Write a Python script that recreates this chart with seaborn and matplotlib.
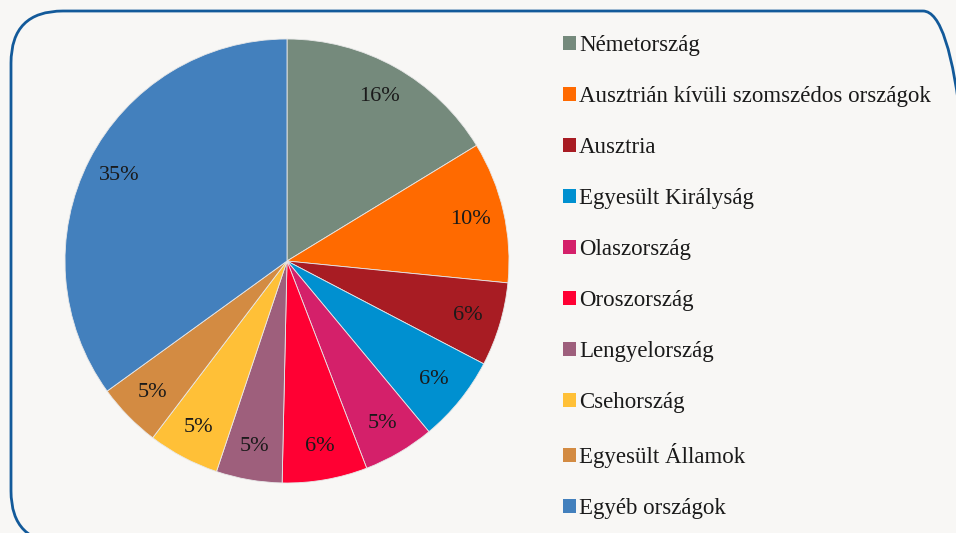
import matplotlib
matplotlib.use("Agg")
import matplotlib.pyplot as plt
import seaborn as sns
from matplotlib.patches import FancyBboxPatch
from matplotlib.transforms import IdentityTransform

categories = ["Németország", "Ausztrián kívüli szomszédos országok", "Ausztria",
              "Egyesült Királyság", "Olaszország", "Oroszország", "Lengyelország",
              "Csehország", "Egyesült Államok", "Egyéb országok"]
values = [16.3, 10.3, 6.1, 6.3, 5.2, 6.2, 4.8, 5.2, 4.7, 35.0]
pct_labels = ["16%", "10%", "6%", "6%", "5%", "6%", "5%", "5%", "5%", "35%"]
colors = ["#758A7C", "#FF6A00", "#A81C23", "#0090D0", "#D4206A",
          "#FF0033", "#9E5F7C", "#FFC037", "#D38B42", "#4380BD"]

sns.set_theme(style="white")
plt.rcParams['font.family'] = ['Liberation Serif', 'DejaVu Serif']

bg = "#F8F7F5"
W, H = 956, 533
fig = plt.figure(figsize=(W / 100, H / 100), dpi=100, facecolor=bg)

# rounded frame in display pixels (origin bottom-left)
frame = FancyBboxPatch((11, -10), 964, 532,
                       boxstyle="round,pad=0,rounding_size=52",
                       facecolor="none", edgecolor="#135A9A", linewidth=2,
                       transform=IdentityTransform())
fig.patches.append(frame)
frame.set_figure(fig)

ax = fig.add_axes([65 / W, 1 - 483 / H, 444 / W, 444 / H])
ax.set_facecolor("none")
palette = sns.color_palette(colors)
wedges, texts = ax.pie(values, colors=palette, startangle=90, counterclock=False,
                       radius=1, labels=pct_labels, labeldistance=0.85,
                       wedgeprops=dict(edgecolor="#E8E8E8", linewidth=0.6),
                       textprops=dict(fontsize=16, color="#1a1a1a"))
for t in texts:
    t.set_horizontalalignment("center")
    t.set_verticalalignment("center")
ax.set_xlim(-1, 1)
ax.set_ylim(-1, 1)
ax.set_aspect("equal")
ax.axis("off")

leg = fig.legend(wedges, categories, loc="upper left",
                 bbox_to_anchor=(554 / W, 1 - 26 / H),
                 frameon=False, fontsize=16.5, handlelength=0.58, handleheight=0.58,
                 handletextpad=0.12, labelspacing=1.31, borderaxespad=0)
for t in leg.get_texts():
    t.set_color("#1a1a1a")
for h in leg.legend_handles:
    h.set_edgecolor("none")

fig.savefig("out.png", dpi=100, facecolor=bg)
